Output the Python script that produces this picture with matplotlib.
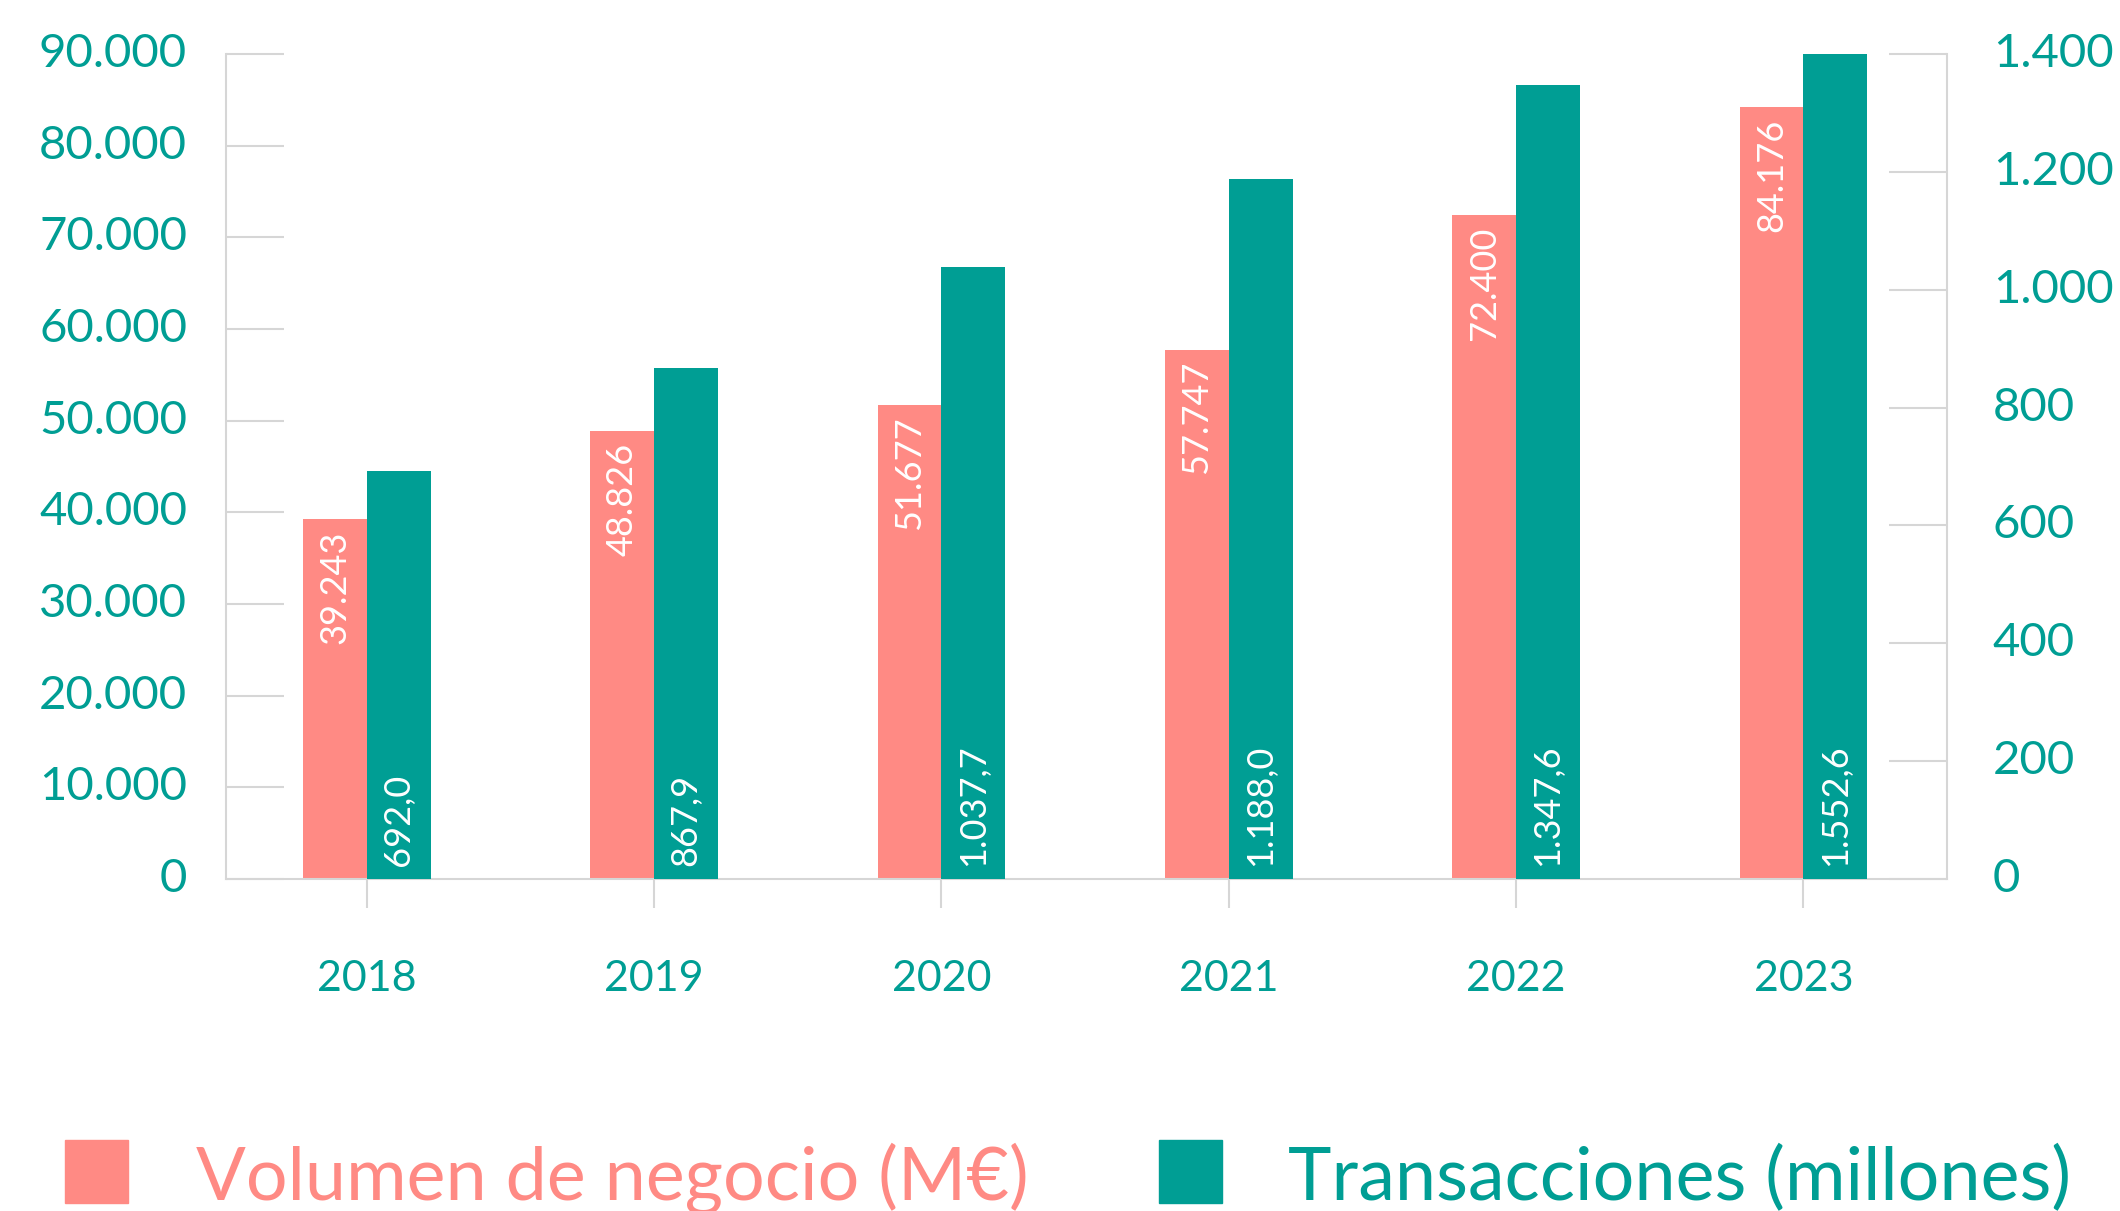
import matplotlib
matplotlib.use("Agg")
import matplotlib.pyplot as plt
from matplotlib.ticker import FuncFormatter
from matplotlib.patches import Rectangle

# ---- data ----
years = ["2018", "2019", "2020", "2021", "2022", "2023"]
volumen = [39243, 48826, 51677, 57747, 72400, 84176]          # M€
transacciones = [692.0, 867.9, 1037.7, 1188.0, 1347.6, 1552.6]  # millones
left_ticks = [0, 10000, 20000, 30000, 40000, 50000, 60000, 70000, 80000, 90000]
right_ticks = [0, 200, 400, 600, 800, 1000, 1200, 1400]
legend_labels = ["Volumen de negocio (M€)", "Transacciones (millones)"]

PINK = "#FF8A84"
TEAL = "#009E94"
GRID = "#D6D6D6"
FONT = ["Lato", "DejaVu Sans"]
plt.rcParams["font.family"] = FONT


def es_int(v):
    return f"{int(round(v)):,}".replace(",", ".")


def es_dec(v):
    s = f"{v:,.1f}"
    return s.replace(",", "X").replace(".", ",").replace("X", ".")


fig = plt.figure(figsize=(21.2, 12.11), dpi=100)
ax = fig.add_axes([226 / 2120, 1 - 879 / 1211, (1947 - 226) / 2120, (879 - 54) / 1211])
ax2 = ax.twinx()

x = list(range(len(years)))
w = 0.222
xp = [i - w / 2 for i in x]
xt = [i + w / 2 for i in x]

ax.bar(xp, volumen, width=w, color=PINK, zorder=2)
ax2.bar(xt, transacciones, width=w, color=TEAL, zorder=2)

ax.set_xlim(-0.49, 5.5)
ax.set_ylim(0, 90000)
ax2.set_ylim(0, 1400)

ax.set_yticks(left_ticks)
ax2.set_yticks(right_ticks)
ax.yaxis.set_major_formatter(FuncFormatter(lambda v, p: es_int(v)))
ax2.yaxis.set_major_formatter(FuncFormatter(lambda v, p: es_int(v)))
ax.set_xticks(x)
ax.set_xticklabels(years)

ax.tick_params(axis="y", direction="in", length=42, width=1.5, color=GRID,
               labelsize=34, labelcolor=TEAL, pad=28)
ax2.tick_params(axis="y", direction="in", length=42, width=1.5, color=GRID,
                labelsize=34, labelcolor=TEAL, pad=33)
ax.tick_params(axis="x", direction="out", length=21, width=1.5, color=GRID,
               labelsize=31, labelcolor=TEAL, pad=37)
for t in ax.get_yticklabels() + ax2.get_yticklabels():
    t.set_va("center")

for a in (ax, ax2):
    for s in a.spines.values():
        s.set_visible(False)
ax.spines["left"].set_visible(True)
ax.spines["bottom"].set_visible(True)
ax2.spines["right"].set_visible(True)
for s in (ax.spines["left"], ax.spines["bottom"], ax2.spines["right"]):
    s.set_color(GRID)
    s.set_linewidth(1.5)

# value labels
for xi, v in zip(xp, volumen):
    ax.annotate(es_int(v), xy=(xi, v), xytext=(0, -8), textcoords="offset points",
                rotation=90, ha="center", va="top", color="white", fontsize=26)
for xi, v in zip(xt, transacciones):
    ax2.annotate(es_dec(v), xy=(xi, 0), xytext=(0, 9), textcoords="offset points",
                 rotation=90, ha="center", va="bottom", color="white", fontsize=26)

# legend
W, H = 2120, 1211
for (x0, c, lab, tx) in [(65, PINK, legend_labels[0], 196), (1159, TEAL, legend_labels[1], 1288)]:
    fig.patches.append(Rectangle((x0 / W, 1 - 1203 / H), 63 / W, 63 / H,
                                 transform=fig.transFigure, color=c))
    fig.text(tx / W, 1 - 1200 / H, lab, color=c, fontsize=53, ha="left", va="baseline")

fig.savefig("out.png", dpi=100)
